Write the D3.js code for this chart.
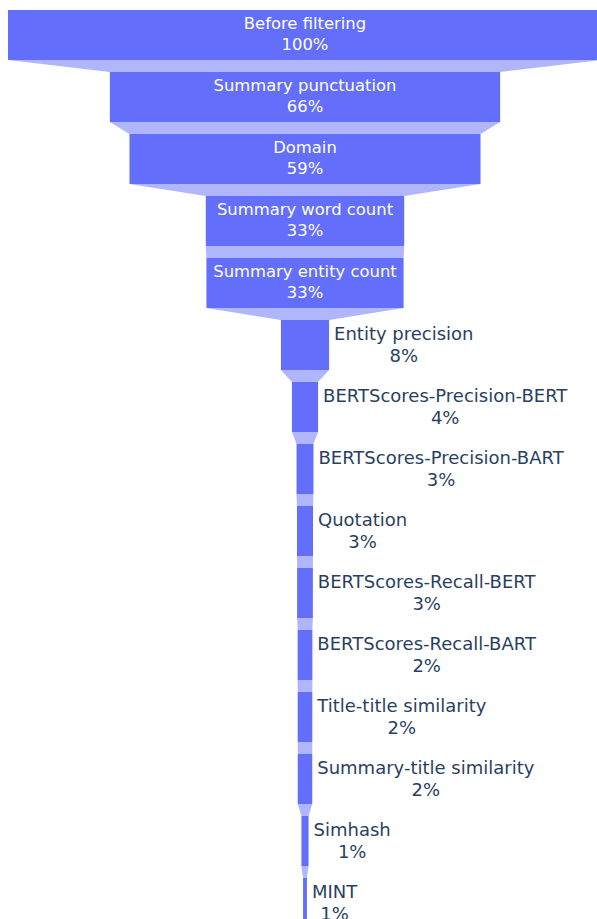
<!DOCTYPE html>
<html>
<head>
<meta charset="utf-8">
<script src="https://cdn.jsdelivr.net/npm/d3@7"></script>
<style>
  html, body { margin: 0; padding: 0; background: #fff; overflow: hidden; }
  svg { display: block; }
</style>
</head>
<body>
<svg id="chart" width="597" height="919"></svg>
<script>
// ---- data ----
const stages = [
  "Before filtering",
  "Summary punctuation",
  "Domain",
  "Summary word count",
  "Summary entity count",
  "Entity precision",
  "BERTScores-Precision-BERT",
  "BERTScores-Precision-BART",
  "Quotation",
  "BERTScores-Recall-BERT",
  "BERTScores-Recall-BART",
  "Title-title similarity",
  "Summary-title similarity",
  "Simhash",
  "MINT"
];
const values = [100, 65.7, 59.1, 33.4, 33.2, 8.1, 4.4, 2.85, 2.7, 2.65, 2.48, 2.46, 2.44, 1.2, 0.65];

// ---- layout ----
const svg = d3.select("#chart");
const barColor = "#636efa";
const connColor = "#b0b6fc";
const outColor = "#2a3f5f";
const fontFamily = "'DejaVu Sans', Verdana, sans-serif";
const outSize = 18;
const inSize = 16.4;

const maxV = d3.max(values);
const x = d3.scaleLinear().domain([-maxV / 2, maxV / 2]).range([8, 602]);
const y = d3.scaleBand().domain(stages).range([4, 934]).paddingInner(12 / 62).paddingOuter(6 / 62);

const data = stages.map((s, i) => ({ stage: s, value: values[i], pct: Math.round(values[i] / values[0] * 100) + "%" }));

// connectors
const gConn = svg.append("g");
for (let i = 0; i < data.length - 1; i++) {
  const a = data[i], b = data[i + 1];
  const y0 = y(a.stage) + y.bandwidth();
  const y1 = y(b.stage);
  gConn.append("path")
    .attr("d", `M${x(-a.value / 2)},${y0}L${x(a.value / 2)},${y0}L${x(b.value / 2)},${y1}L${x(-b.value / 2)},${y1}Z`)
    .attr("fill", connColor);
}

// bars
svg.append("g").selectAll("rect").data(data).join("rect")
  .attr("x", d => x(-d.value / 2))
  .attr("width", d => x(d.value / 2) - x(-d.value / 2))
  .attr("y", d => y(d.stage))
  .attr("height", y.bandwidth())
  .attr("fill", barColor);

// labels
const gText = svg.append("g").attr("font-family", fontFamily);
data.forEach(d => {
  const cy = y(d.stage) + y.bandwidth() / 2;
  const bw = x(d.value / 2) - x(-d.value / 2);
  const t = gText.append("text").attr("text-anchor", "middle").attr("font-size", inSize);
  const l1 = t.append("tspan").text(d.stage);
  const l2 = t.append("tspan").text(d.pct);
  const w = Math.max(l1.node().getComputedTextLength(), l2.node().getComputedTextLength());
  if (w + 6 <= bw) {
    t.attr("fill", "#ffffff");
    l1.attr("x", x(0)).attr("y", cy - 5.7);
    l2.attr("x", x(0)).attr("y", cy + 15);
  } else {
    t.attr("fill", outColor).attr("font-size", outSize);
    const w2 = Math.max(l1.node().getComputedTextLength(), l2.node().getComputedTextLength());
    const cx = x(d.value / 2) + 5 + w2 / 2;
    l1.attr("x", cx).attr("y", cy - 5);
    l2.attr("x", cx).attr("y", cy + 17);
  }
});
</script>
</body>
</html>
